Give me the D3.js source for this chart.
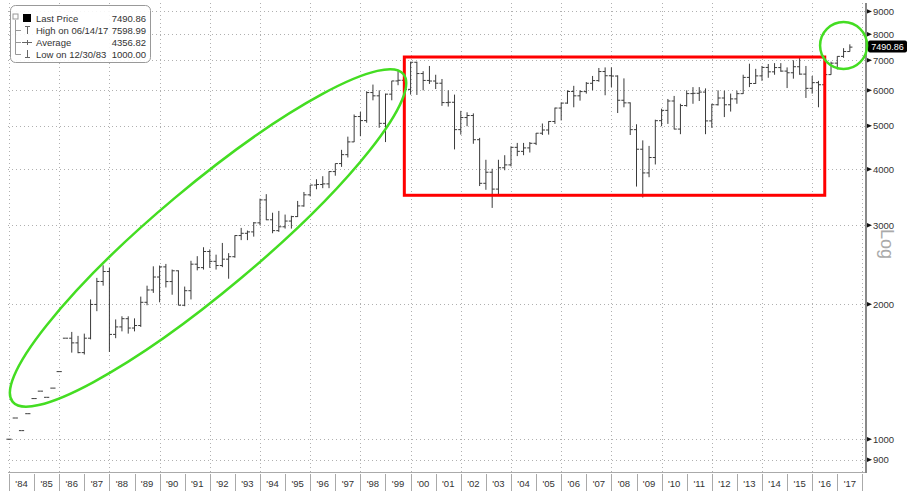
<!DOCTYPE html>
<html>
<head>
<meta charset="utf-8">
<script src="https://cdn.jsdelivr.net/npm/d3@7"></script>
<style>
  body { margin: 0; background: #fff; }
  text { font-family: "Liberation Sans", Arial, sans-serif; }
</style>
</head>
<body>
<svg id="chart"></svg>
<script>
// quarterly bars, quarter labels
var quarters = [
  "1983Q4",
  "1984Q1","1984Q2","1984Q3","1984Q4",
  "1985Q1","1985Q2","1985Q3","1985Q4",
  "1986Q1","1986Q2","1986Q3","1986Q4",
  "1987Q1","1987Q2","1987Q3","1987Q4",
  "1988Q1","1988Q2","1988Q3","1988Q4",
  "1989Q1","1989Q2","1989Q3","1989Q4",
  "1990Q1","1990Q2","1990Q3","1990Q4",
  "1991Q1","1991Q2","1991Q3","1991Q4",
  "1992Q1","1992Q2","1992Q3","1992Q4",
  "1993Q1","1993Q2","1993Q3","1993Q4",
  "1994Q1","1994Q2","1994Q3","1994Q4",
  "1995Q1","1995Q2","1995Q3","1995Q4",
  "1996Q1","1996Q2","1996Q3","1996Q4",
  "1997Q1","1997Q2","1997Q3","1997Q4",
  "1998Q1","1998Q2","1998Q3","1998Q4",
  "1999Q1","1999Q2","1999Q3","1999Q4",
  "2000Q1","2000Q2","2000Q3","2000Q4",
  "2001Q1","2001Q2","2001Q3","2001Q4",
  "2002Q1","2002Q2","2002Q3","2002Q4",
  "2003Q1","2003Q2","2003Q3","2003Q4",
  "2004Q1","2004Q2","2004Q3","2004Q4",
  "2005Q1","2005Q2","2005Q3","2005Q4",
  "2006Q1","2006Q2","2006Q3","2006Q4",
  "2007Q1","2007Q2","2007Q3","2007Q4",
  "2008Q1","2008Q2","2008Q3","2008Q4",
  "2009Q1","2009Q2","2009Q3","2009Q4",
  "2010Q1","2010Q2","2010Q3","2010Q4",
  "2011Q1","2011Q2","2011Q3","2011Q4",
  "2012Q1","2012Q2","2012Q3","2012Q4",
  "2013Q1","2013Q2","2013Q3","2013Q4",
  "2014Q1","2014Q2","2014Q3","2014Q4",
  "2015Q1","2015Q2","2015Q3","2015Q4",
  "2016Q1","2016Q2","2016Q3","2016Q4",
  "2017Q1","2017Q2"
];

var opens = [
  1000,
  1115, 1045, 1140, 1232,
  1280, 1240, 1300, 1415,
  1680, 1680, 1640, 1560,
  1680, 1998, 2248, 2366,
  1713, 1780, 1857, 1770,
  1793, 2020, 2152, 2300,
  2423, 2247, 2375, 1990,
  2144, 2457, 2414, 2622,
  2493, 2440, 2521, 2553,
  2846, 2879, 2900, 3038,
  3418, 3086, 2919, 2977,
  3066, 3137, 3314, 3508,
  3689, 3699, 3711, 3953,
  4119, 4312, 4604, 5244,
  5136, 5932, 5833, 5064,
  5883, 6296, 6318, 6030,
  6930, 6540, 6313, 6294,
  6223, 5634, 5643, 4903,
  5217, 5272, 4656, 3722,
  3940, 3613, 4031, 4091,
  4477, 4386, 4464, 4571,
  4814, 4894, 5113, 5478,
  5619, 5965, 5833, 5961,
  6221, 6308, 6608, 6467,
  6457, 5702, 5626, 4903,
  4434, 3926, 4249, 5134,
  5413, 5680, 4917, 5549,
  5900, 5909, 5946, 5128,
  5572, 5768, 5571, 5742,
  5898, 6412, 6215, 6462,
  6749, 6598, 6744, 6623,
  6566, 6773, 6521, 6062,
  6242, 6175, 6504, 6899,
  7143, 7323
];

var highs = [
  1000,
  1115, 1045, 1140, 1232,
  1280, 1240, 1300, 1415,
  1680, 1735, 1700, 1720,
  2050, 2290, 2443, 2410,
  1850, 1880, 1880, 1860,
  2080, 2200, 2430, 2440,
  2460, 2390, 2380, 2190,
  2500, 2560, 2680, 2650,
  2580, 2740, 2600, 2850,
  2960, 2920, 3050, 3440,
  3520, 3200, 3230, 3170,
  3150, 3400, 3560, 3690,
  3800, 3860, 3960, 4120,
  4420, 4730, 5300, 5370,
  5970, 6180, 6000, 5900,
  6300, 6640, 6620, 6950,
  6950, 6620, 6800, 6500,
  6360, 6000, 5870, 5400,
  5360, 5330, 4700, 4200,
  4010, 4200, 4300, 4500,
  4580, 4580, 4600, 4820,
  5060, 5120, 5490, 5640,
  6000, 6140, 6000, 6260,
  6460, 6730, 6750, 6750,
  6480, 6380, 5640, 5040,
  4640, 4510, 5160, 5460,
  5740, 5830, 5600, 6000,
  6100, 6100, 6060, 5600,
  6000, 5990, 5900, 5990,
  6500, 6880, 6700, 6800,
  6870, 6900, 6900, 6750,
  7000, 7120, 6800, 6460,
  6300, 6540, 6950, 7150,
  7450, 7599
];

var lows = [
  1000,
  1115, 1045, 1140, 1232,
  1280, 1240, 1300, 1415,
  1680, 1560, 1555, 1545,
  1670, 1930, 2200, 1565,
  1680, 1740, 1720, 1740,
  1780, 1990, 2120, 2020,
  2180, 2100, 1990, 1980,
  2050, 2380, 2390, 2410,
  2390, 2420, 2280, 2540,
  2780, 2780, 2830, 3000,
  3080, 2880, 2900, 2950,
  2950, 3130, 3300, 3480,
  3610, 3630, 3630, 3870,
  4050, 4250, 4600, 4740,
  5080, 5700, 4950, 4600,
  5700, 6160, 5950, 5870,
  5860, 6000, 6200, 6040,
  5540, 5520, 4430, 4780,
  4990, 4560, 3670, 3600,
  3280, 3520, 3980, 4060,
  4280, 4300, 4360, 4530,
  4770, 4780, 5050, 5140,
  5600, 5500, 5690, 5900,
  6000, 6270, 5850, 6100,
  5340, 5500, 4770, 3660,
  3460, 3840, 4100, 4990,
  5050, 4910, 4790, 5520,
  5600, 5680, 4790, 4950,
  5550, 5230, 5380, 5600,
  5890, 6100, 6200, 6300,
  6400, 6500, 6600, 6070,
  6370, 6500, 5770, 5900,
  5500, 5780, 6500, 6680,
  7090, 7320
];

var closes = [
  1000,
  1115, 1045, 1140, 1232,
  1280, 1240, 1300, 1415,
  1680, 1640, 1560, 1680,
  1998, 2248, 2366, 1713,
  1780, 1857, 1770, 1793,
  2020, 2152, 2300, 2423,
  2247, 2375, 1990, 2144,
  2457, 2414, 2622, 2493,
  2440, 2521, 2553, 2846,
  2879, 2900, 3038, 3418,
  3086, 2919, 2977, 3066,
  3137, 3314, 3508, 3689,
  3699, 3711, 3953, 4119,
  4312, 4604, 5244, 5136,
  5932, 5833, 5064, 5883,
  6296, 6318, 6030, 6930,
  6540, 6313, 6294, 6223,
  5634, 5643, 4903, 5217,
  5272, 4656, 3722, 3940,
  3613, 4031, 4091, 4477,
  4386, 4464, 4571, 4814,
  4894, 5113, 5478, 5619,
  5965, 5833, 5961, 6221,
  6308, 6608, 6467, 6457,
  5702, 5626, 4903, 4434,
  3926, 4249, 5134, 5413,
  5680, 4917, 5549, 5900,
  5909, 5946, 5128, 5572,
  5768, 5571, 5742, 5898,
  6412, 6215, 6462, 6749,
  6598, 6744, 6623, 6566,
  6773, 6521, 6062, 6242,
  6175, 6504, 6899, 7143,
  7323, 7491
];

var yearLabels = ["'84","'85","'86","'87","'88","'89","'90","'91","'92","'93","'94","'95",
  "'96","'97","'98","'99","'00","'01","'02","'03","'04","'05","'06","'07","'08","'09",
  "'10","'11","'12","'13","'14","'15","'16","'17"];
var firstYear = 1984;

var yTicks = [900, 1000, 2000, 3000, 4000, 5000, 6000, 7000, 8000, 9000];

var legendLabels = ["Last Price", "High on 06/14/17", "Average", "Low on 12/30/83"];
var legendValues = ["7490.86", "7598.99", "4356.82", "1000.00"];
var lastPrice = 7490.86;

// highlighted regions (in data terms)
var boxYears = [1999.75, 2016.5], boxValues = [3500, 7120];
var ellipseCenter = {year: 1991.93, value: 2811};
var circleCenter = {year: 2017.25, value: 7552};

var width = 910, height = 492;

var svg = d3.select("#chart")
  .attr("width", width)
  .attr("height", height);

var x = d3.scaleLinear()
  .domain([firstYear, firstYear + yearLabels.length])
  .range([9, 862.4]);

var y = d3.scaleLog()
  .domain([845, 9300])
  .range([472, 5]);

var plotLeft = 8, plotRight = 866, plotTop = 3, plotBottom = 472;

function qDate(q) {
  return +q.slice(0, 4) + (+q.slice(5)) / 4;
}

var data = quarters.map(function(q, i) {
  return {t: qDate(q), o: opens[i], h: highs[i], l: lows[i], c: closes[i]};
});

// grid
var grid = svg.append("g").attr("class", "grid")
  .attr("stroke", "#b0b0b0")
  .attr("stroke-dasharray", "1,3");

var gridYears = yearLabels.map(function(d, i) { return firstYear + i; })
  .filter(function(yr) { return (yr - firstYear) % 2 === 0; })
  .concat([firstYear + yearLabels.length]);

grid.selectAll(".vline")
  .data(gridYears)
  .enter().append("line")
  .attr("x1", function(d) { return Math.round(x(d)) + 0.5; })
  .attr("x2", function(d) { return Math.round(x(d)) + 0.5; })
  .attr("y1", plotTop)
  .attr("y2", plotBottom);

grid.selectAll(".hline")
  .data(yTicks)
  .enter().append("line")
  .attr("x1", plotLeft)
  .attr("x2", plotRight)
  .attr("y1", function(d) { return Math.round(y(d)) + 0.5; })
  .attr("y2", function(d) { return Math.round(y(d)) + 0.5; });

// bars
var tick = 2.6;
svg.append("g")
  .attr("class", "bars")
  .attr("fill", "none")
  .attr("stroke", "#3a3a3a")
  .attr("stroke-width", 1)
  .selectAll("path")
  .data(data)
  .enter().append("path")
  .attr("d", function(d) {
    var cx = x(d.t);
    var p = "M" + cx + "," + y(d.h) + "V" + y(d.l);
    p += "M" + (cx - tick) + "," + y(d.o) + "H" + cx;
    p += "M" + cx + "," + y(d.c) + "H" + (cx + tick);
    return p;
  });

// bottom axis
var xAxis = svg.append("g").attr("class", "x axis");
xAxis.append("line")
  .attr("x1", plotLeft).attr("x2", plotRight)
  .attr("y1", plotBottom + 0.5).attr("y2", plotBottom + 0.5)
  .attr("stroke", "#aaa");

xAxis.selectAll(".sep")
  .data(d3.range(yearLabels.length + 1))
  .enter().append("line")
  .attr("x1", function(i) { return Math.round(x(firstYear + i)) + 0.5; })
  .attr("x2", function(i) { return Math.round(x(firstYear + i)) + 0.5; })
  .attr("y1", plotBottom + 2)
  .attr("y2", 491)
  .attr("stroke", "#aaa");

xAxis.selectAll("text")
  .data(yearLabels)
  .enter().append("text")
  .attr("x", function(d, i) { return x(firstYear + i + 0.5); })
  .attr("y", 487)
  .attr("text-anchor", "middle")
  .attr("font-size", 9.5)
  .attr("fill", "#333")
  .text(function(d) { return d; });

// right axis
var yAxis = svg.append("g").attr("class", "y axis");
yAxis.append("line")
  .attr("x1", plotRight).attr("x2", plotRight)
  .attr("y1", plotTop).attr("y2", plotBottom + 1)
  .attr("stroke", "#888")
  .attr("stroke-width", 2);

yAxis.selectAll("path")
  .data(yTicks)
  .enter().append("path")
  .attr("d", function(d) {
    var ty = y(d);
    return "M" + (plotRight + 1) + "," + (ty - 2.2) + "L" + (plotRight + 6) + "," + ty + "L" + (plotRight + 1) + "," + (ty + 2.2) + "Z";
  })
  .attr("fill", "#111");

yAxis.selectAll("text")
  .data(yTicks)
  .enter().append("text")
  .attr("x", plotRight + 7)
  .attr("y", function(d) { return y(d) + 3.4; })
  .attr("font-size", 9.5)
  .attr("fill", "#333")
  .text(function(d) { return d; });

// last price tag
var tag = svg.append("g")
  .attr("transform", "translate(" + (plotRight + 2) + "," + y(lastPrice) + ")");
tag.append("rect")
  .attr("x", 0).attr("y", -6.5)
  .attr("width", 39).attr("height", 12)
  .attr("rx", 2)
  .attr("fill", "#000");
tag.append("text")
  .attr("x", 19.5).attr("y", 3.3)
  .attr("text-anchor", "middle")
  .attr("font-size", 9)
  .attr("fill", "#fff")
  .text(lastPrice.toFixed(2));

svg.append("text")
  .attr("transform", "translate(881,244) rotate(90)")
  .attr("text-anchor", "middle")
  .attr("font-size", 18)
  .attr("fill", "#aaa")
  .text("Log");

// annotations
svg.append("rect")
  .attr("x", x(boxYears[0]))
  .attr("y", y(boxValues[1]))
  .attr("width", x(boxYears[1]) - x(boxYears[0]))
  .attr("height", y(boxValues[0]) - y(boxValues[1]))
  .attr("fill", "none")
  .attr("stroke", "#f00")
  .attr("stroke-width", 3);

svg.append("ellipse")
  .attr("transform", "translate(" + x(ellipseCenter.year) + "," + y(ellipseCenter.value) + ") rotate(-40)")
  .attr("rx", 255)
  .attr("ry", 52)
  .attr("fill", "none")
  .attr("stroke", "#44dd22")
  .attr("stroke-width", 2.5);

svg.append("circle")
  .attr("cx", x(circleCenter.year))
  .attr("cy", y(circleCenter.value))
  .attr("r", 23.5)
  .attr("fill", "none")
  .attr("stroke", "#44dd22")
  .attr("stroke-width", 2.5);

// legend
var legend = svg.append("g").attr("class", "legend");
legend.append("rect")
  .attr("x", 10.5).attr("y", 5.5)
  .attr("width", 140).attr("height", 57)
  .attr("rx", 5)
  .attr("fill", "#fff")
  .attr("fill-opacity", 0.9)
  .attr("stroke", "#999");

// tree connector
legend.append("path")
  .attr("d", "M15.5,20V54.5H21M15.5,42.5H21M15.5,30.5H21")
  .attr("fill", "none")
  .attr("stroke", "#999");
legend.append("rect")
  .attr("x", 13).attr("y", 14).attr("width", 5).attr("height", 5)
  .attr("fill", "none").attr("stroke", "#999");
legend.append("rect")
  .attr("x", 23).attr("y", 14).attr("width", 8).attr("height", 8)
  .attr("fill", "#000");
legend.append("path")
  .attr("d", "M25,26.5H30M27.5,26.5V34" +
             "M22,42.5H32M27.5,40V45" +
             "M27.5,50V57.5M25,57.5H30")
  .attr("fill", "none")
  .attr("stroke", "#666");

legend.selectAll(".lab")
  .data(legendLabels)
  .enter().append("text")
  .attr("x", 36)
  .attr("y", function(d, i) { return 21.5 + i * 12; })
  .attr("font-size", 9.5)
  .attr("fill", "#333")
  .text(function(d) { return d; });

legend.selectAll(".val")
  .data(legendValues)
  .enter().append("text")
  .attr("x", 146)
  .attr("y", function(d, i) { return 21.5 + i * 12; })
  .attr("text-anchor", "end")
  .attr("font-size", 9.5)
  .attr("fill", "#333")
  .text(function(d) { return d; });
</script>
</body>
</html>
